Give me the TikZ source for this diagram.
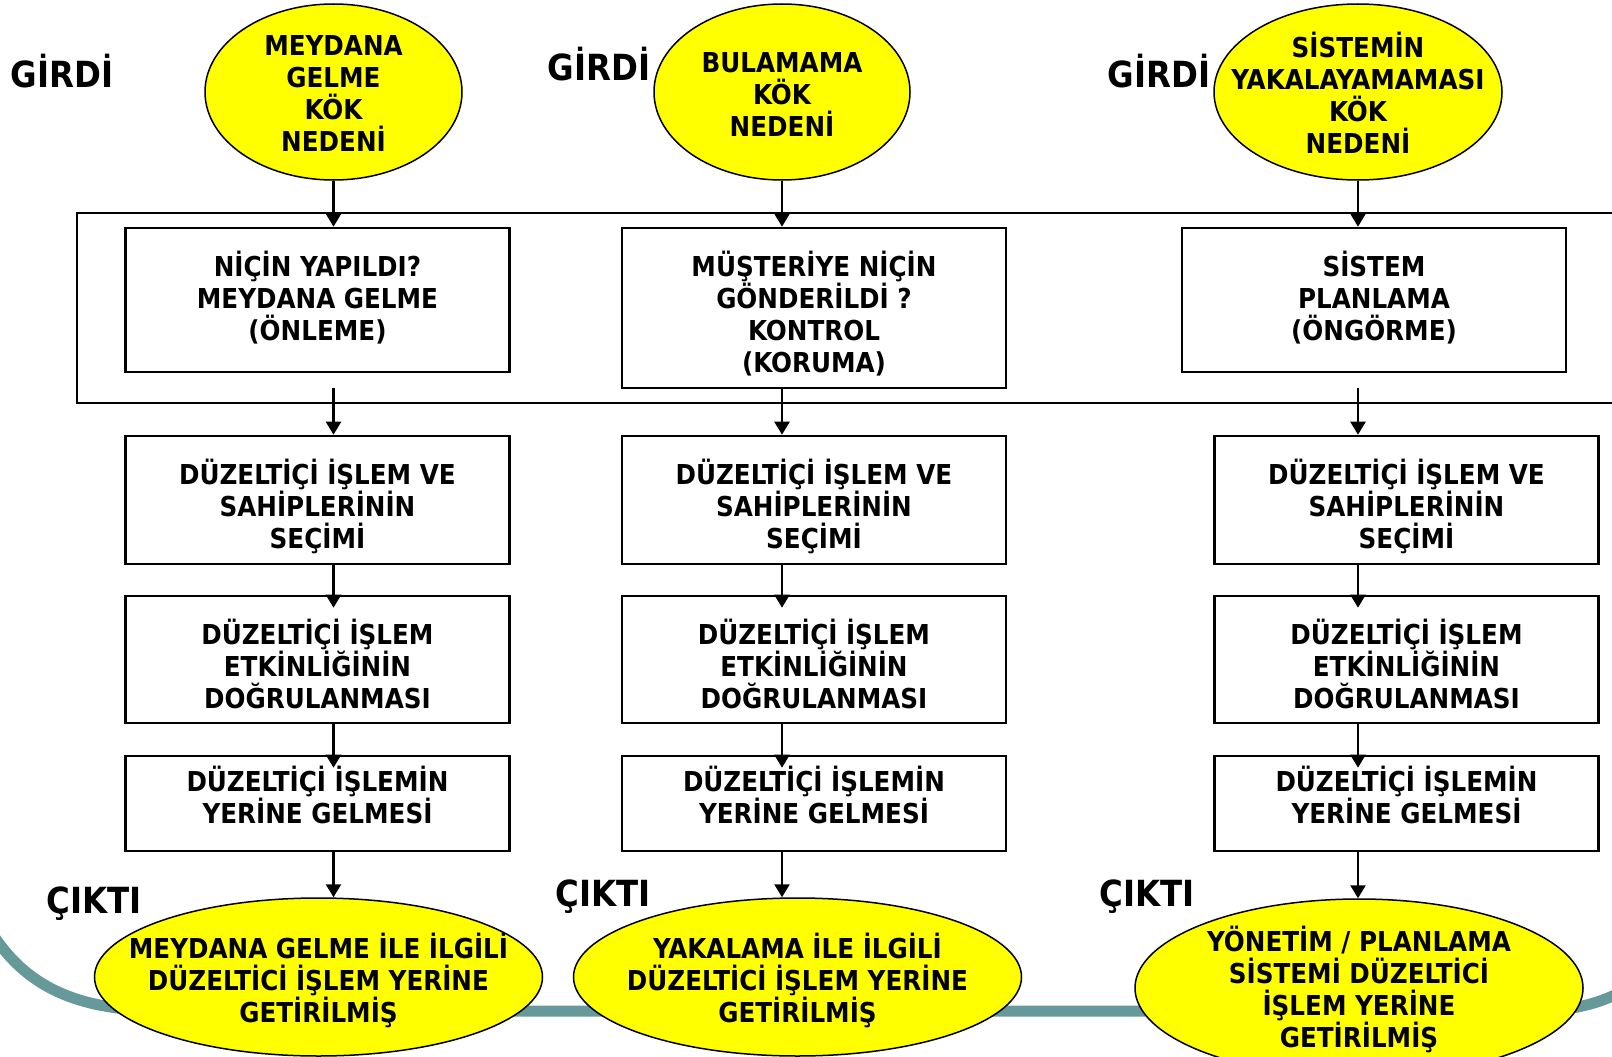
\documentclass[tikz,border=0pt]{standalone}
\usepackage{fontspec}
\setmainfont{DejaVu Sans Condensed}
\usetikzlibrary{arrows.meta,shapes.geometric}
\definecolor{band}{RGB}{102,153,153}
\definecolor{sun}{RGB}{255,255,0}
\begin{document}
\begin{tikzpicture}[x=1pt,y=-1pt,
  every node/.style={font=\bfseries\fontsize{27.4}{32}\selectfont,align=center,inner sep=0pt},
  tag/.style={font=\bfseries\fontsize{36}{40}\selectfont},
  stepbox/.style={draw,line width=2.6pt,minimum width=384pt},
  causeell/.style={ellipse,draw,fill=sun,line width=1.5pt,minimum height=176pt},
  resultell/.style={ellipse,draw,fill=sun,line width=1.5pt,minimum width=448pt},
  flow/.style={-{Triangle[length=13pt,width=15pt]},line width=2.4pt},
]
\useasboundingbox (0,0) rectangle (1612,1057);
\clip (0,0) rectangle (1612,1057);

% decorative band behind the result ellipses
\draw[band,line width=11pt] (-10,930) .. controls (30,995) and (90,1011) .. (170,1011)
  -- (1530,1011) .. controls (1575,1011) and (1600,1003) .. (1625,990);

% frame around the first row of boxes
\draw[line width=1.7pt] (77,213) rectangle (1630,403);

% root causes (inputs)
\node[causeell,minimum width=257pt] (e1) at (333.5,92) {};
\node (e1t) at (333.5,94) {MEYDANA\\GELME\\KÖK\\NEDENİ};
\node[causeell,minimum width=256pt] (e2) at (782,92) {};
\node (e2t) at (782,95) {BULAMAMA\\KÖK\\NEDENİ};
\node[causeell,minimum width=288pt] (e3) at (1358,92) {};
\node (e3t) at (1358,93) {SİSTEMİN\\YAKALAYAMAMASI\\KÖK\\NEDENİ};

\node[tag] (g1) at (62,71) {GİRDİ};
\node[tag] (g2) at (599,64) {GİRDİ};
\node[tag] (g3) at (1159,71) {GİRDİ};

% first row
\node[stepbox,minimum height=144pt] (A1) at (317.5,300) {};
\node (A1t) at (317.5,298) {NİÇİN YAPILDI?\\MEYDANA GELME\\(ÖNLEME)};
\node[stepbox,minimum height=160pt] (B1) at (814,308) {};
\node (B1t) at (814,314) {MÜŞTERİYE NİÇİN\\GÖNDERİLDİ ?\\KONTROL\\(KORUMA)};
\node[stepbox,minimum height=144pt] (C1) at (1374,300) {};
\node (C1t) at (1374,298) {SİSTEM\\PLANLAMA\\(ÖNGÖRME)};

% corrective action rows
\foreach \n/\x in {A/317.5, B/814, C/1406.5}{
  \node[stepbox,minimum height=128pt] (\n2) at (\x,500) {};
  \node (\n2t) at (\x,506) {DÜZELTİÇİ İŞLEM VE\\SAHİPLERİNİN\\SEÇİMİ};
  \node[stepbox,minimum height=127pt] (\n3) at (\x,659.5) {};
  \node (\n3t) at (\x,664) {DÜZELTİÇİ İŞLEM\\ETKİNLİĞİNİN\\DOĞRULANMASI};
  \node[stepbox,minimum height=95pt] (\n4) at (\x,803.5) {};
  \node (\n4t) at (\x,795) {DÜZELTİÇİ İŞLEMİN\\YERİNE GELMESİ};
}

% results (outputs)
\node[resultell,minimum height=158pt] (o1) at (318.5,977) {};
\node (o1t) at (318.5,980) {MEYDANA GELME İLE İLGİLİ\\DÜZELTİCİ İŞLEM YERİNE\\GETİRİLMİŞ};
\node[resultell,minimum height=158pt] (o2) at (797.5,977) {};
\node (o2t) at (797.5,980) {YAKALAMA İLE İLGİLİ\\DÜZELTİCİ İŞLEM YERİNE\\GETİRİLMİŞ};
\node[resultell,minimum height=178pt] (o3) at (1359,988) {};
\node (o3t) at (1359,989) {YÖNETİM / PLANLAMA\\SİSTEMİ DÜZELTİCİ\\İŞLEM YERİNE\\GETİRİLMİŞ};

\node[tag] (c1) at (94,904) {ÇIKTI};
\node[tag] (c2) at (603,897) {ÇIKTI};
\node[tag] (c3) at (1147,897) {ÇIKTI};

% starting points of the arrows leaving the frame
\coordinate (sa) at (e1.south |- 0,388);
\coordinate (sc) at (e3.south |- 0,388);

% connectors
\foreach \e/\a/\b/\c/\d/\o/\s in {e1/A1/A2/A3/A4/o1/sa, e2/B1/B2/B3/B4/o2/B1.south, e3/C1/C2/C3/C4/o3/sc}{
  \draw[flow] (\e.south) -- (\e.south |- \a.north);
  \draw[flow] (\e.south |- \s) -- (\e.south |- \b.north);
  \draw[flow] (\e.south |- \b.south) -- ([yshift=-13pt]\e.south |- \c.north);
  \draw[flow] (\e.south |- \c.south) -- ([yshift=-13pt]\e.south |- \d.north);
  \draw[flow] (\e.south |- \d.south) -- (\e.south |- \o.north);
}
\end{tikzpicture}
\end{document}
